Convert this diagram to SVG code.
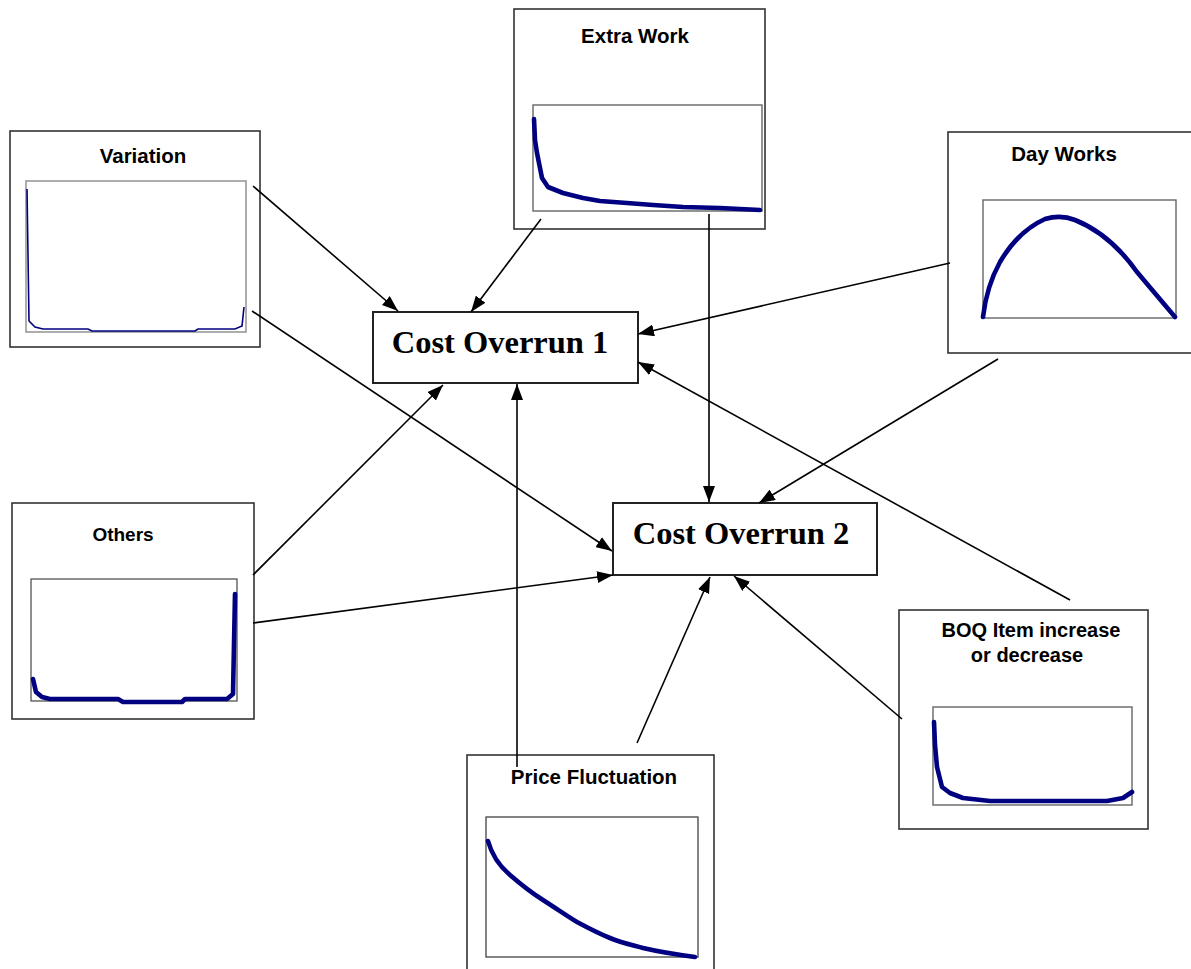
<svg xmlns="http://www.w3.org/2000/svg" width="1191" height="969" viewBox="0 0 1191 969">
<defs>
<marker id="ah" markerWidth="16" markerHeight="12" refX="16" refY="6" orient="auto" markerUnits="userSpaceOnUse">
<path d="M0,0 L16,6 L0,12 z" fill="#000"/>
</marker>
<style>
.outer{fill:#fff;stroke:#333;stroke-width:1.6}
.inner{fill:#fff;stroke:#666;stroke-width:1.4}
.curve{fill:none;stroke:#000080;stroke-width:4.6;stroke-linejoin:round;stroke-linecap:round}
.lbl{font-family:"Liberation Sans",Arial,sans-serif;font-weight:bold;font-size:20.5px;fill:#000;text-anchor:middle}
.co{fill:#fff;stroke:#222;stroke-width:2}
.cot{font-family:"Liberation Serif","Times New Roman",serif;font-weight:bold;font-size:32.5px;fill:#000;text-anchor:middle}
.conn{stroke:#000;stroke-width:1.6;fill:none;marker-end:url(#ah)}
</style>
</defs>
<rect width="1191" height="969" fill="#fff"/>

<g id="variation">
<rect class="outer" x="10" y="131" width="250" height="216"/>
<text class="lbl" x="143" y="163">Variation</text>
<rect x="26" y="181" width="220" height="151" fill="#fff" stroke="#999" stroke-width="1.6"/>
<polyline fill="none" stroke="#000080" stroke-width="1.6" points="27,189 29,321 35,327 43,329 88,329 92,331 195,331 198,329 235,329 242,326 244,307"/>
</g>

<g id="extra-work">
<rect class="outer" x="514" y="9" width="251" height="220"/>
<text class="lbl" x="635" y="43">Extra Work</text>
<rect class="inner" x="533" y="105" width="229" height="106"/>
<polyline class="curve" points="534,119 535,140 537,153 540,168 542,178 548,187 563,193 583,198 600,201 627,203 653,205 683,207 720,208 760,210"/>
</g>

<g id="day-works">
<rect class="outer" x="948" y="132" width="250" height="221"/>
<text class="lbl" x="1064" y="161">Day Works</text>
<rect class="inner" x="983" y="200" width="193" height="118"/>
<path class="curve" d="M983,317 C985,300 990,280 1000,262 C1010,245 1025,228 1045,219 C1055,216 1065,216 1075,220 C1100,230 1120,248 1137,272 L1175,317"/>
</g>

<g id="others">
<rect class="outer" x="12" y="503" width="242" height="216"/>
<text class="lbl" x="123" y="541" style="font-size:19px">Others</text>
<rect x="31" y="579" width="206" height="122" fill="#fff" stroke="#444" stroke-width="1.2"/>
<polyline class="curve" points="33,679 36,692 42,697 50,699 118,699 123,702 182,702 185,699 227,699 233,694 235,594"/>
</g>

<g id="price-fluctuation">
<rect class="outer" x="467" y="755" width="247" height="230"/>
<text class="lbl" x="594" y="784">Price Fluctuation</text>
<rect x="486" y="817" width="212" height="140" fill="#fff" stroke="#333" stroke-width="1.2"/>
<path class="curve" d="M488,841 C491,852 497,864 510,875 C525,888 535,895 543,900 C560,911 570,918 577,922 C590,929 600,934 610,938 C622,943 632,945 643,948 C660,952 680,955 695,957"/>
</g>

<g id="boq">
<rect class="outer" x="899" y="610" width="249" height="219"/>
<text class="lbl" x="1031" y="637" style="font-size:20px">BOQ Item increase</text>
<text class="lbl" x="1027" y="662" style="font-size:20px">or decrease</text>
<rect class="inner" x="933" y="707" width="199" height="98"/>
<polyline class="curve" points="934,722 935,745 937,767 942,787 950,793 963,798 990,801 1107,801 1123,798 1132,792"/>
</g>

<g id="cost-overrun-1">
<rect class="co" x="373" y="312" width="265" height="71"/>
<text class="cot" x="500" y="353">Cost Overrun 1</text>
</g>

<g id="cost-overrun-2">
<rect class="co" x="613" y="503" width="264" height="72"/>
<text class="cot" x="741" y="544">Cost Overrun 2</text>
</g>

<g id="connectors">
<line class="conn" x1="253" y1="186" x2="398" y2="311"/>
<line class="conn" x1="252" y1="311" x2="612" y2="551"/>
<line class="conn" x1="541" y1="219" x2="471" y2="312"/>
<line class="conn" x1="709" y1="214" x2="709" y2="502"/>
<line class="conn" x1="950" y1="263" x2="638" y2="334"/>
<line class="conn" x1="998" y1="359" x2="759" y2="503"/>
<line class="conn" x1="253" y1="575" x2="443" y2="385"/>
<line class="conn" x1="253" y1="623" x2="613" y2="575"/>
<line class="conn" x1="517" y1="767" x2="517" y2="384"/>
<line class="conn" x1="637" y1="743" x2="710" y2="577"/>
<line class="conn" x1="1070" y1="600" x2="638" y2="362"/>
<line class="conn" x1="902" y1="719" x2="734" y2="576"/>
</g>
</svg>
